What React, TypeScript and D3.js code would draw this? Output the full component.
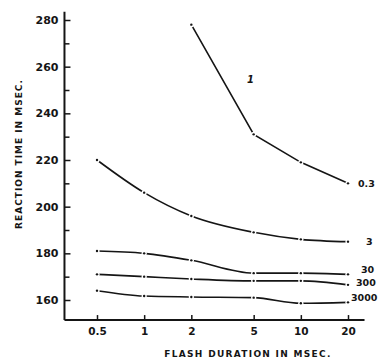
import React, { useRef, useEffect } from 'react';
import * as d3 from 'd3';

// flash duration (msec) on a log axis
const durations = [0.5, 1, 2, 5, 10, 20];
const yTicks = [160, 180, 200, 220, 240, 260, 280];
const yMinorTicks = [170, 190, 210, 230, 250, 270];

// reaction time (msec) for each curve; null = no point
const series03 = [null, null, 278, 231, 219, 210];
const series3 = [220, 206, 196, 189, 186, 185];
const series30 = [181, 180, 177, 171.5, 171.5, 171];
const series300 = [171, 170, 169, 168.2, 168.2, 166.5];
const series3000 = [164, 161.7, 161.3, 161, 158.6, 159];

const curveLabels = ['0.3', '3', '30', '300', '3000'];
const curveValues = [series03, series3, series30, series300, series3000];

const App = () => {
  const svgRef = useRef<SVGSVGElement>(null);
  const width = 378;
  const height = 358;

  useEffect(() => {
    const svg = d3.select(svgRef.current);
    svg.selectAll('*').remove();

    const x = d3.scaleLog().domain([0.5, 20]).range([97, 348]);
    const y = d3.scaleLinear().domain([160, 280]).range([300, 20]);
    const font = 'DejaVu Sans, sans-serif';
    const ink = '#151515';

    // axis lines (drawn a bit past the tick range, like the original)
    svg.append('line')
      .attr('x1', x(0.31)).attr('x2', x(0.31))
      .attr('y1', y(151.4)).attr('y2', y(283.5))
      .attr('stroke', ink).attr('stroke-width', 2);
    svg.append('line')
      .attr('x1', x(0.31)).attr('x2', x(25.5))
      .attr('y1', y(151.4)).attr('y2', y(151.4))
      .attr('stroke', ink).attr('stroke-width', 2);

    // y axis, ticks pointing inward
    const yAxis = svg.append('g')
      .attr('transform', `translate(${x(0.31)},0)`)
      .call(d3.axisLeft(y).tickValues(yTicks).tickSizeInner(-6).tickSizeOuter(0).tickPadding(6));
    yAxis.select('.domain').remove();
    yAxis.selectAll('line').attr('stroke', ink).attr('stroke-width', 1.5);
    yAxis.selectAll('text')
      .attr('font-family', font).attr('font-weight', 'bold').attr('font-size', 11)
      .attr('fill', ink);

    const yMinor = svg.append('g')
      .attr('transform', `translate(${x(0.31)},0)`)
      .call(d3.axisLeft(y).tickValues(yMinorTicks).tickSizeInner(-5).tickSizeOuter(0).tickFormat(() => ''));
    yMinor.select('.domain').remove();
    yMinor.selectAll('line').attr('stroke', ink).attr('stroke-width', 1.5);

    // x axis, ticks pointing up
    const xAxis = svg.append('g')
      .attr('transform', `translate(0,${y(151.4)})`)
      .call(d3.axisBottom(x).tickValues(durations).tickSizeInner(-5).tickSizeOuter(0).tickPadding(7)
        .tickFormat(d => String(d)));
    xAxis.select('.domain').remove();
    xAxis.selectAll('line').attr('stroke', ink).attr('stroke-width', 1.5);
    xAxis.selectAll('text')
      .attr('font-family', font).attr('font-weight', 'bold').attr('font-size', 10.5)
      .attr('fill', ink);

    // axis titles
    svg.append('text')
      .attr('x', 248).attr('y', 357)
      .attr('text-anchor', 'middle')
      .attr('font-family', font).attr('font-weight', 'bold').attr('font-size', 9)
      .attr('letter-spacing', 1.3)
      .attr('fill', ink)
      .text('FLASH DURATION IN MSEC.');

    svg.append('text')
      .attr('transform', 'translate(22,154) rotate(-90)')
      .attr('text-anchor', 'middle')
      .attr('font-family', font).attr('font-weight', 'bold').attr('font-size', 9)
      .attr('letter-spacing', 1)
      .attr('fill', ink)
      .text('REACTION TIME IN MSEC.');

    // end-label offsets so the crowded labels stay inside the frame
    const labelDx = [10, 18, 13, 8, 3];
    const labelDy = [0, 0, -5, -2, -5];

    curveValues.forEach((values, k) => {
      const pts = durations.map((d, i) => ({ d, v: values[i] })).filter(p => p.v != null);
      const line = d3.line<any>()
        .x(p => x(p.d))
        .y(p => y(p.v))
        .curve(k === 0 ? d3.curveLinear : d3.curveMonotoneX);

      svg.append('path')
        .datum(pts)
        .attr('fill', 'none')
        .attr('stroke', ink)
        .attr('stroke-width', 1.6)
        .attr('d', line);

      // small gaps around the plotted points
      svg.selectAll(null)
        .data(pts)
        .enter()
        .append('circle')
        .attr('cx', p => x(p.d)).attr('cy', p => y(p.v))
        .attr('r', 2.6).attr('fill', '#fff');
      svg.selectAll(null)
        .data(pts)
        .enter()
        .append('circle')
        .attr('cx', p => x(p.d)).attr('cy', p => y(p.v))
        .attr('r', 1.2).attr('fill', ink);

      const last = pts[pts.length - 1];
      svg.append('text')
        .attr('x', x(last.d) + labelDx[k])
        .attr('y', y(last.v) + labelDy[k])
        .attr('dy', '0.35em')
        .attr('font-family', font).attr('font-weight', 'bold').attr('font-size', 9.5)
        .attr('fill', ink)
        .text(curveLabels[k]);
    });

    // curve label "1" beside the top curve
    svg.append('text')
      .attr('x', 247).attr('y', 83)
      .attr('font-family', font).attr('font-weight', 'bold').attr('font-style', 'italic')
      .attr('font-size', 10)
      .attr('fill', ink)
      .text('1');
  }, []);

  return (
    <svg ref={svgRef} width={width} height={height}
      style={{ position: 'absolute', left: 0, top: 0, background: '#fff' }} />
  );
};

export default App;
